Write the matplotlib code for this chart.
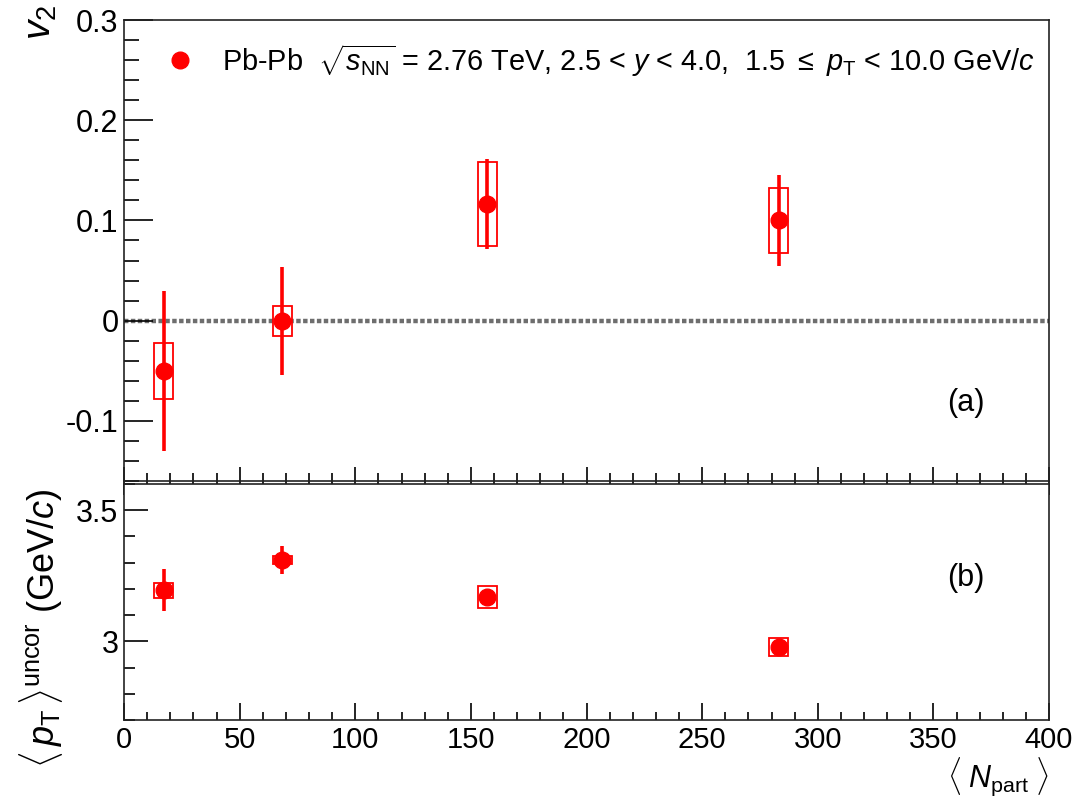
import matplotlib
matplotlib.use("Agg")
import matplotlib.pyplot as plt
from matplotlib.patches import Rectangle
from matplotlib.ticker import MultipleLocator

plt.rcParams['font.family'] = ['Liberation Sans', 'DejaVu Sans']
plt.rcParams['mathtext.fontset'] = 'custom'
plt.rcParams['mathtext.rm'] = 'Liberation Sans'
plt.rcParams['mathtext.it'] = 'Liberation Sans:italic'
plt.rcParams['mathtext.bf'] = 'Liberation Sans:bold'

# ---- data ----
npart = [17.1, 68.5, 157.1, 283.1]
v2 = [-0.05, 0.0, 0.116, 0.100]
v2_stat = [0.080, 0.054, 0.045, 0.045]
v2_syst = [0.028, 0.015, 0.042, 0.032]
pt_mean = [3.195, 3.311, 3.170, 2.979]
pt_stat = [0.080, 0.054, 0.020, 0.015]
pt_syst = [0.028, 0.015, 0.042, 0.035]
box_halfwidth = 4.1

xticks = [0, 50, 100, 150, 200, 250, 300, 350, 400]
v2_ticks = [-0.1, 0, 0.1, 0.2, 0.3]
v2_ticklabels = ['-0.1', '0', '0.1', '0.2', '0.3']
pt_ticks = [3.0, 3.5]
pt_ticklabels = ['3', '3.5']

RED = '#ff0000'

W, H = 1073, 798
fig = plt.figure(figsize=(W / 100, H / 100), dpi=100)

left, right = 124 / W, 1049 / W
ax1 = fig.add_axes([left, 1 - 481 / H, right - left, (481 - 20) / H])
ax2 = fig.add_axes([left, 1 - 720 / H, right - left, (720 - 484) / H])

for ax in (ax1, ax2):
    for sp in ax.spines.values():
        sp.set_linewidth(1.2)
        sp.set_color('#222222')

# ---- top panel ----
ax1.set_xlim(0, 400)
ax1.set_ylim(-0.16, 0.3)
ax1.axhline(0, color='#6e6e6e', lw=3.2, ls=(0, (1.0, 0.55)), zorder=1)
for x, y, s in zip(npart, v2, v2_syst):
    ax1.add_patch(Rectangle((x - box_halfwidth, y - s), 2 * box_halfwidth, 2 * s,
                            fill=False, ec=RED, lw=1.3, zorder=3))
ax1.errorbar(npart, v2, yerr=v2_stat, fmt='o', color=RED, ms=12, elinewidth=2.6,
             capsize=0, zorder=4)
ax1.set_xticks(xticks)
ax1.xaxis.set_minor_locator(MultipleLocator(10))
ax1.set_yticks(v2_ticks)
ax1.set_yticklabels(v2_ticklabels)
ax1.yaxis.set_minor_locator(MultipleLocator(0.02))
ax1.tick_params(axis='x', which='major', direction='inout', length=20, width=1.2,
                labelbottom=False, top=False)
ax1.tick_params(axis='x', which='minor', direction='inout', length=12, width=1.2, top=False)
ax1.tick_params(axis='y', which='major', direction='in', length=21, width=1.2,
                labelsize=22, pad=4, right=False)
ax1.tick_params(axis='y', which='minor', direction='in', length=11, width=1.2, right=False)

# legend
ax1.plot([0.0605], [0.913], 'o', color=RED, ms=12, transform=ax1.transAxes)
ax1.text(0.106, 0.913,
         r"Pb-Pb  $\sqrt{s_{\rm NN}}$ = 2.76 TeV, 2.5 < $y$ < 4.0,  1.5 $\leq$ $p_{\rm T}$ < 10.0 GeV/$c$",
         transform=ax1.transAxes, ha='left', va='center', fontsize=20.8)
ax1.text(0.91, 0.17, '(a)', transform=ax1.transAxes, ha='center', va='center', fontsize=22)

# ---- bottom panel ----
ax2.set_xlim(0, 400)
ax2.set_ylim(2.7, 3.6)
for x, y, s in zip(npart, pt_mean, pt_syst):
    ax2.add_patch(Rectangle((x - box_halfwidth, y - s), 2 * box_halfwidth, 2 * s,
                            fill=False, ec=RED, lw=1.3, zorder=3))
ax2.errorbar(npart, pt_mean, yerr=pt_stat, fmt='o', color=RED, ms=12, elinewidth=2.6,
             capsize=0, zorder=4)
ax2.set_xticks(xticks)
ax2.set_xticklabels([str(t) for t in xticks], fontsize=21)
ax2.xaxis.set_minor_locator(MultipleLocator(10))
ax2.set_yticks(pt_ticks)
ax2.set_yticklabels(pt_ticklabels)
ax2.yaxis.set_minor_locator(MultipleLocator(0.1))
ax2.tick_params(axis='x', which='major', direction='in', length=12, width=1.2, pad=4, top=False)
ax2.tick_params(axis='x', which='minor', direction='in', length=6, width=1.2, top=False)
ax2.tick_params(axis='y', which='major', direction='in', length=17, width=1.2,
                labelsize=22, pad=4, right=False)
ax2.tick_params(axis='y', which='minor', direction='in', length=8, width=1.2, right=False)
ax2.text(0.91, 0.60, '(b)', transform=ax2.transAxes, ha='center', va='center', fontsize=22)

# ---- axis titles ----
fig.text(0.038, 1 - 5 / H, r"$v_2$", rotation=90, ha='center', va='top', fontsize=28)
fig.text(0.038, 1 - 488 / H, r"$\langle\,p_{\rm T}\,\rangle^{\rm uncor}$ (GeV/$c$)",
         rotation=90, ha='center', va='top', fontsize=26)
fig.text(right, 0.0, r"$\langle\;N_{\rm part}\;\rangle$", ha='right', va='bottom', fontsize=22)

fig.savefig('out.png', dpi=100, facecolor='white')
